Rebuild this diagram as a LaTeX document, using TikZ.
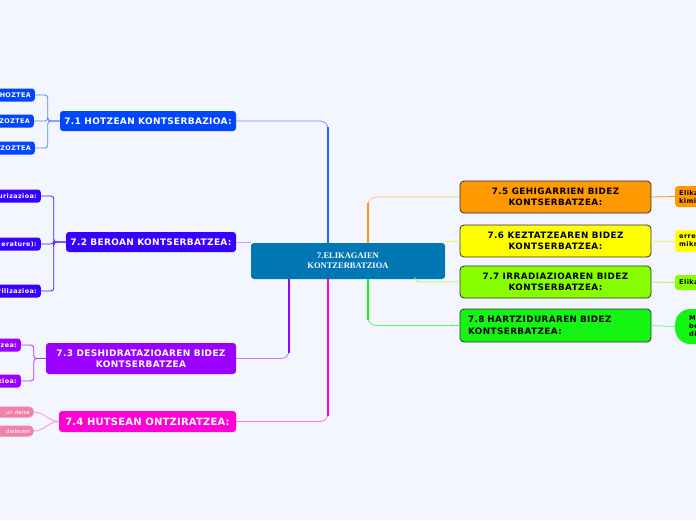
\documentclass[tikz,border=0pt]{standalone}
\usepackage{fontspec}
\setmainfont{DejaVu Sans}
\newfontfamily\rootfont{Liberation Serif}
\usepackage{tikz}
\usetikzlibrary{positioning, calc}
\definecolor{mybg}{RGB}{243,246,254}
\definecolor{mydark}{RGB}{50,50,50}
\definecolor{myroot}{RGB}{0,118,178}
\definecolor{myblue}{RGB}{0,70,255}
\definecolor{myindigo}{RGB}{55,0,255}
\definecolor{mypurple}{RGB}{153,0,255}
\definecolor{mymagenta}{RGB}{255,0,215}
\definecolor{mypink}{RGB}{240,130,170}
\definecolor{myorange}{RGB}{255,153,0}
\definecolor{myyellow}{RGB}{255,255,0}
\definecolor{mylime}{RGB}{136,255,0}
\definecolor{mygreen}{RGB}{20,245,20}
\definecolor{mypale}{RGB}{238,238,120}
\tikzset{
  topic/.style={rectangle, rounded corners=3pt, text=white, align=center,
    font=\bfseries\fontsize{9}{11}\selectfont\addfontfeatures{LetterSpace=3.5}, inner sep=0pt},
  rtopic/.style={rectangle, rounded corners=4pt, draw=mydark, line width=0.8pt,
    minimum width=191pt, minimum height=32pt, align=center, inner sep=0pt,
    font=\bfseries\fontsize{8.8}{11.5}\selectfont\addfontfeatures{LetterSpace=5}},
  leaf/.style={rectangle, rounded corners=3pt, text=white, anchor=east,
    text width=50pt, align=right, inner xsep=4pt, inner ysep=0pt,
    minimum height=13pt, font=\bfseries\fontsize{6.4}{7.5}\selectfont\addfontfeatures{LetterSpace=6}},
  rleaf/.style={rectangle, rounded corners=3pt, anchor=west, text width=40pt,
    align=left, inner xsep=4pt, inner ysep=0pt,
    font=\bfseries\fontsize{6.6}{8}\selectfont\addfontfeatures{LetterSpace=6}},
  link/.style={line width=0.8pt, rounded corners=8pt},
  trunk/.style={line width=2pt}
}

\begin{document}
\begin{tikzpicture}[x=1pt, y=-1pt]
  \fill[mybg] (0,0) rectangle (696,520);
  \useasboundingbox (0,0) rectangle (696,520);
  \clip (0,0) rectangle (696,520);

  % Root
  \node[rectangle, rounded corners=3pt, fill=myroot, text=white, align=center,
    minimum width=194pt, minimum height=36pt, inner sep=0pt,
    font=\rootfont\bfseries\fontsize{8.5}{10}\selectfont] (root) at (348,261)
    {7.ELIKAGAIEN\\KONTZERBATZIOA};
  \coordinate (a71) at ($(root.north)+(-20,0)$);
  \coordinate (a75) at ($(root.north)+(20,0)$);
  \coordinate (a73) at ($(root.south)+(-59,0)$);
  \coordinate (a74) at ($(root.south)+(-20,0)$);
  \coordinate (a78) at ($(root.south)+(20,0)$);
  \coordinate (a77) at ($(root.south)+(67,0)$);

  % Left topics
  \node[topic, fill=myblue, minimum width=176pt, minimum height=20pt] (n71) at (148,121)
    {7.1 HOTZEAN KONTSERBAZIOA:};
  \node[topic, fill=myindigo, minimum width=170pt, minimum height=20pt] (n72) at (151,242)
    {7.2 BEROAN KONTSERBATZEA:};
  \node[topic, fill=mypurple, minimum width=190pt, minimum height=31pt] (n73) at (141,358.5)
    {7.3 DESHIDRATAZIOAREN BIDEZ\\KONTSERBATZEA};
  \node[topic, fill=mymagenta, minimum width=177pt, minimum height=21pt,
    font=\bfseries\fontsize{10}{12}\selectfont\addfontfeatures{LetterSpace=2}] (n74) at (147.5,421.5)
    {7.4 HUTSEAN ONTZIRATZEA:};

  % Right topics
  \node[rtopic, fill=myorange] (n75) at (555.5,197) {7.5 GEHIGARRIEN BIDEZ\\KONTSERBATZEA:};
  \node[rtopic, fill=myyellow] (n76) at (555.5,241) {7.6 KEZTATZEAREN BIDEZ\\KONTSERBATZEA:};
  \node[rtopic, fill=mylime] (n77) at (555.5,282) {7.7 IRRADIAZIOAREN BIDEZ\\KONTSERBATZEA:};
  \node[rtopic, fill=mygreen, minimum height=33pt, align=left, text width=175pt]
    (n78) at (555.5,325.5) {7.8 HARTZIDURAREN BIDEZ\\KONTSERBATZEA:};

  % Left leaves
  \node[leaf, fill=myblue] (l71a) at (35,95) {HOZTEA};
  \node[leaf, fill=myblue] (l71b) at (34,121) {ZOZTEA};
  \node[leaf, fill=myblue] (l71c) at (35,148) {ZOZTEA};
  \node[leaf, fill=myindigo] (l72a) at (41,196) {urizazioa:};
  \node[leaf, fill=myindigo] (l72b) at (41,244) {erature):};
  \node[leaf, fill=myindigo] (l72c) at (41,291) {rilizazioa:};
  \node[leaf, fill=mypurple] (l73a) at (21,345) {tzea:};
  \node[leaf, fill=mypurple] (l73b) at (21,381) {zioa:};
  \node[leaf, fill=mypink, minimum height=11pt, rounded corners=5pt,
    font=\fontsize{5.5}{6.5}\selectfont] (l74a) at (34,412) {un datza};
  \node[leaf, fill=mypink, minimum height=11pt, rounded corners=5pt,
    font=\fontsize{5.5}{6.5}\selectfont] (l74b) at (34,431) {daitezen};

  % Right leaves
  \node[rleaf, fill=myorange, minimum height=21pt] (l75) at (675,196.5) {Elika\\kimi};
  \node[rleaf, fill=myyellow, minimum height=22pt] (l76) at (675,241) {erre\\mikr};
  \node[rleaf, fill=mylime, minimum height=15pt] (l77) at (675,282.5) {Elika};
  \node[rleaf, fill=mygreen, minimum height=35pt, rounded corners=15pt,
    inner xsep=14pt] (l78) at (675,326.5) {M\\be\\di};

  % Root links
  \draw[link, myblue!55] (a71) |- (n71.east);
  \draw[trunk, myblue!85, shorten >=6pt] (a71) -- (a71 |- n71.east);
  \draw[link, myorange!60] (a75) |- (n75.west);
  \draw[trunk, myorange, shorten >=6pt] (a75) -- (a75 |- n75.west);
  \draw[link, mypurple!55] (a73) |- (n73.east);
  \draw[trunk, mypurple, shorten >=6pt] (a73) -- (a73 |- n73.east);
  \draw[link, mymagenta!55] (a74) |- (n74.east);
  \draw[trunk, mymagenta, shorten >=6pt] (a74) -- (a74 |- n74.east);
  \draw[link, mygreen!70] (a78) |- (n78.west);
  \draw[trunk, mygreen, shorten >=6pt] (a78) -- (a78 |- n78.west);
  \draw[link, mylime!80, rounded corners=4pt] (a77) |- (n77.west);
  \draw[link, myindigo!35] (n72.east) -- (n72.east -| root.west);
  \draw[link, mypale] (n76.west) -- (n76.west -| root.east);

  % Leaf links
  \foreach \l in {l71a, l71b, l71c}
    \draw[link, myblue!65, rounded corners=3pt] (n71.west) -- ++(-12,0) |- (\l.east);
  \foreach \l in {l72a, l72b, l72c}
    \draw[link, myindigo!90, rounded corners=3pt] (n72.west) -- ++(-12,0) |- (\l.east);
  \foreach \l in {l73a, l73b}
    \draw[link, mypurple!80, rounded corners=3pt] (n73.west) -- ++(-12,0) |- (\l.east);
  \foreach \l in {l74a, l74b}
    \draw[link, mymagenta!45] (n74.west) to[out=180, in=0] (\l.east);
  \draw[link, myorange] (n75.east) -- (l75.west);
  \draw[link, mypale] (n76.east) -- (l76.west);
  \draw[link, mylime!80] (n77.east) -- (l77.west);
  \draw[link, mygreen!60] (n78.east) -- (l78.west);
\end{tikzpicture}
\end{document}
